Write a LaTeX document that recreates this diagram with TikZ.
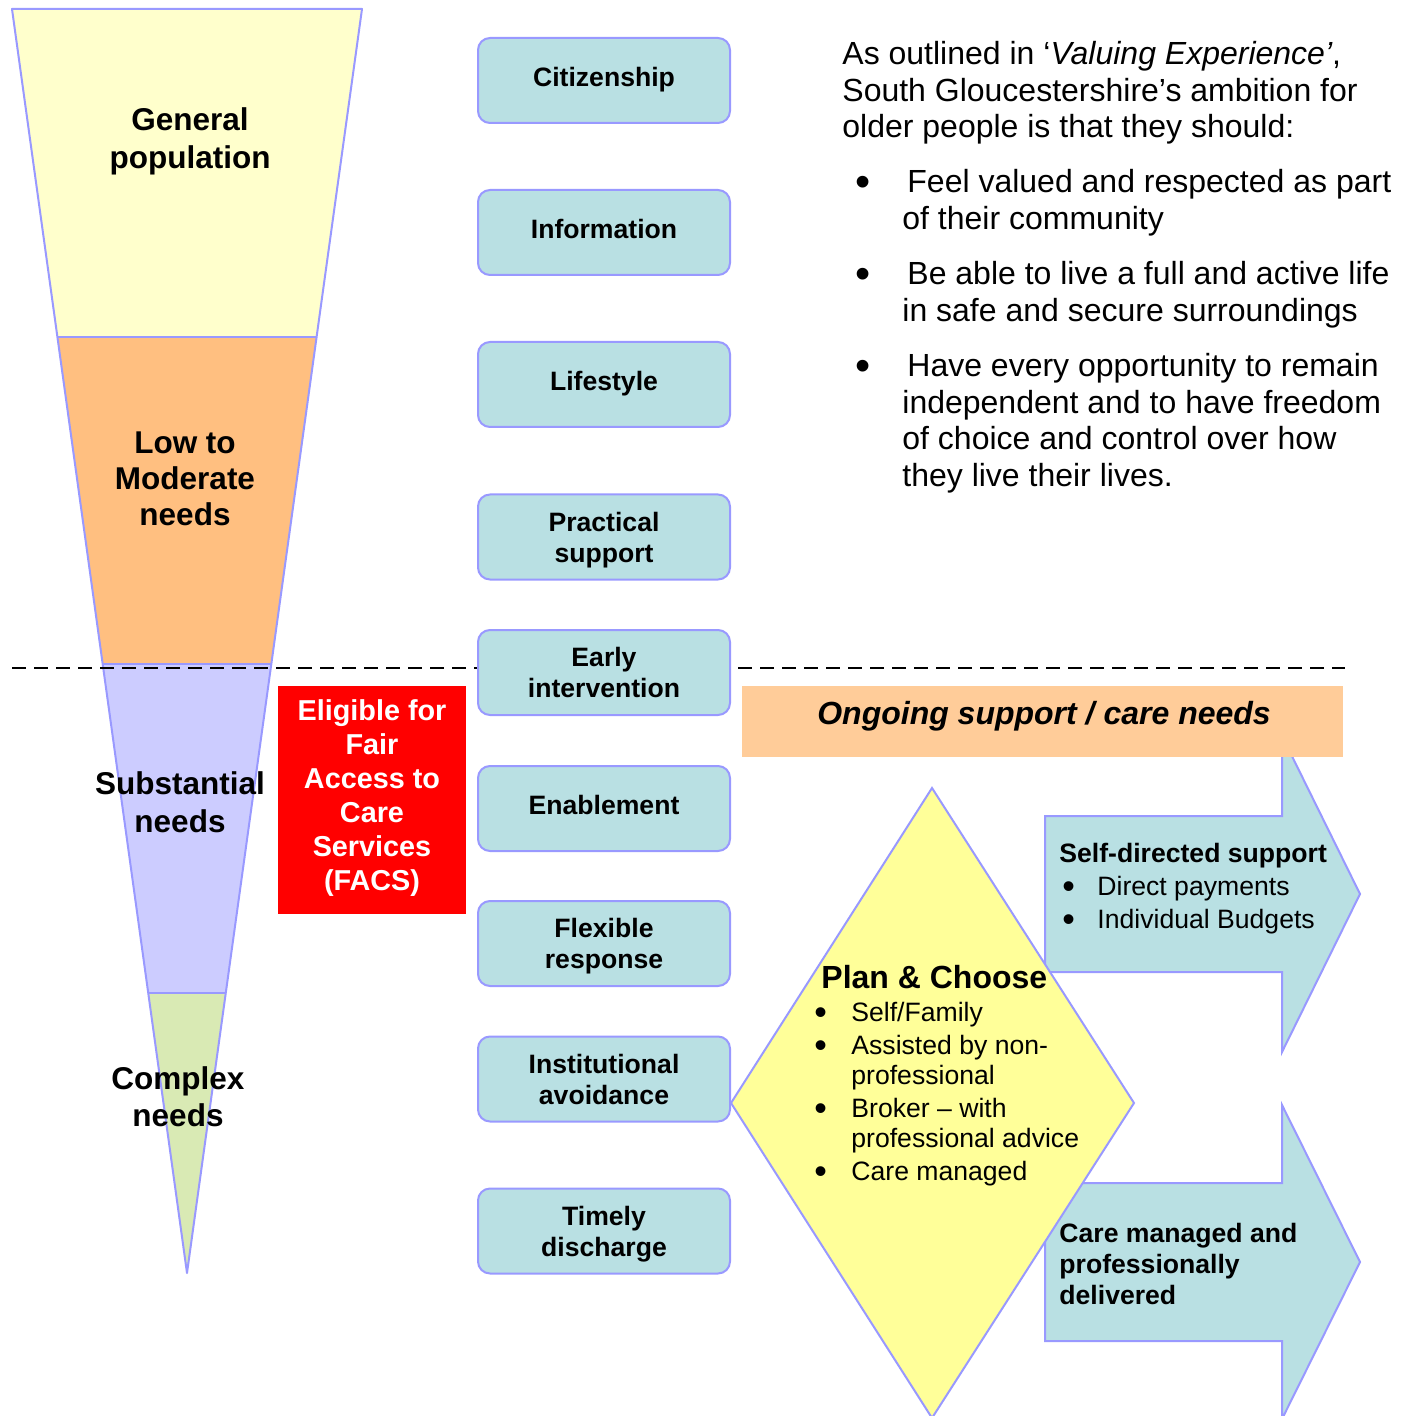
\documentclass[tikz,border=0pt]{standalone}
\usepackage{graphicx}
\usepackage{fontspec}
\setmainfont{Liberation Sans}
\usetikzlibrary{calc}
\definecolor{lav}{RGB}{153,153,255}
\definecolor{boxfill}{RGB}{185,224,227}
\definecolor{funyel}{RGB}{255,255,204}
\definecolor{funora}{RGB}{255,191,128}
\definecolor{funpur}{RGB}{204,204,255}
\definecolor{fungrn}{RGB}{217,234,180}
\definecolor{ongo}{RGB}{255,204,153}
\definecolor{diam}{RGB}{255,255,153}
\newcommand\mybul{\raisebox{-0.12em}{\scalebox{1.35}{\textbullet}}}
\begin{document}
\begin{tikzpicture}[x=0.5pt,y=-0.5pt,
  svcbox/.style={draw=lav, line width=1pt, fill=boxfill, rounded corners=6pt,
    minimum width=126pt, minimum height=42.5pt, align=center, inner sep=0pt,
    font=\fontsize{13.3}{15.5}\selectfont\bfseries},
  oneline/.style={svcbox, text height=9.8pt, text depth=4pt},
  twoline/.style={svcbox, text depth=0pt},
  funtext/.style={align=center, inner sep=0pt, font=\fontsize{15.75}{19}\selectfont\bfseries},
  outline/.style={draw=lav, line width=1pt, line join=round},
  blockarrow/.style={fill=boxfill, draw=lav, line width=1pt, line join=miter},
  bodytext/.style={anchor=base west, inner sep=0pt, font=\fontsize{16}{18.25}\selectfont},
  smalltext/.style={anchor=base west, inner sep=0pt, font=\fontsize{13.3}{15.5}\selectfont}
]
\useasboundingbox (0,0) rectangle (1403,1416);
\clip (0,0) rectangle (1403,1416);

% ---------- funnel ----------
\coordinate (f0l) at (12,9);     \coordinate (f0r) at (362,9);
\coordinate (f1l) at (57.4,337); \coordinate (f1r) at (316.6,337);
\coordinate (f2l) at (102.7,664);\coordinate (f2r) at (271.3,664);
\coordinate (f3l) at (148.2,993);\coordinate (f3r) at (225.8,993);
\coordinate (ftip) at (187,1273);
\fill[funyel] (f0l) -- (f0r) -- (f1r) -- (f1l) -- cycle;
\fill[funora] (f1l) -- (f1r) -- (f2r) -- (f2l) -- cycle;
\fill[funpur] (f2l) -- (f2r) -- (f3r) -- (f3l) -- cycle;
\fill[fungrn] (f3l) -- (f3r) -- (ftip) -- cycle;
\draw[outline] (f0l) -- (f0r) -- (ftip) -- cycle;
\draw[outline] (f1l) -- (f1r);
\draw[outline] (f2l) -- (f2r);
\draw[outline] (f3l) -- (f3r);

% ---------- dashed threshold ----------
\coordinate (dashL) at (12,668);
\coordinate (dashR) at (1345,668);
\draw[line width=1.2pt, dash pattern=on 7pt off 4pt] (dashL) -- (dashR);

% ---------- funnel labels ----------
\node[funtext] (genpop) at (190,141) {General\\population};
\node[funtext, font=\fontsize{15.75}{18}\selectfont\bfseries] (lowmod) at (185,478.5) {Low to\\Moderate\\needs};
\node[funtext] (subst) at (180,802) {Substantial\\needs};
\node[funtext, font=\fontsize{15.75}{18.5}\selectfont\bfseries] (complex) at (178,1097) {Complex\\needs};

% ---------- FACS ----------
\node[fill=red, text=white, minimum width=94pt, minimum height=114pt, inner sep=0pt,
  align=center, text depth=5pt, font=\fontsize{14.4}{17}\selectfont\bfseries] (facs) at (372,800)
  {Eligible for\\Fair\\Access to\\Care\\Services\\(FACS)};

% ---------- service boxes ----------
\node[oneline] (citizen) at (604,80.5) {Citizenship};
\node[oneline] (info) at (604,232.5) {Information};
\node[oneline] (life) at (604,384.5) {Lifestyle};
\node[twoline] (practical) at (604,537) {Practical\\support};
\node[twoline] (early) at (604,672.5) {Early\\intervention};
\node[oneline] (enable) at (604,808.5) {Enablement};
\node[twoline] (flex) at (604,943.5) {Flexible\\response};
\node[twoline] (inst) at (604,1079) {Institutional\\avoidance};
\node[twoline] (timely) at (604,1231) {Timely\\discharge};

% ---------- block arrows ----------
\draw[blockarrow] (1045,816) -- (1282,816) -- (1282,736) -- (1360,894) -- (1282,1052)
  -- (1282,972) -- (1045,972) -- cycle;
\draw[blockarrow] (1045,1183) -- (1282,1183) -- (1282,1105) -- (1360,1262) -- (1282,1419)
  -- (1282,1341) -- (1045,1341) -- cycle;

% ---------- ongoing box ----------
\node[fill=ongo, minimum width=300.5pt, minimum height=35.5pt, inner sep=0pt] (ongoing) at (1042.5,721.5) {};
\node[inner sep=0pt, font=\fontsize{16}{18}\selectfont\bfseries\itshape] (ongoingtxt) at (1044,716)
  {Ongoing support / care needs};

% ---------- diamond ----------
\coordinate (dtop) at (932,788);
\coordinate (dright) at (1134,1103);
\coordinate (dbot) at (932,1418);
\coordinate (dleft) at (731,1103);
\draw[fill=diam, draw=lav, line width=1pt, line join=miter] (dtop) -- (dright) -- (dbot) -- (dleft) -- cycle;

% ---------- diamond text ----------
\node[anchor=base west, inner sep=0pt, font=\fontsize{16}{18}\selectfont\bfseries] (pctitle) at (821,988) {Plan \& Choose};
\node[smalltext, font=\fontsize{13.3}{15}\selectfont] (pclist) at (814,1021)
  {\begin{tabular}[t]{@{}l@{}l@{}}
   \makebox[18.5pt][l]{\mybul} & Self/Family\\[1.5pt]
   \makebox[18.5pt][l]{\mybul} & Assisted by non-\\
   & professional\\[1.5pt]
   \makebox[18.5pt][l]{\mybul} & Broker – with\\
   & professional advice\\[1.5pt]
   \makebox[18.5pt][l]{\mybul} & Care managed
   \end{tabular}};

% ---------- arrow texts ----------
\node[smalltext, font=\fontsize{13.3}{16.5}\selectfont] (sds) at (1059,862)
  {\begin{tabular}[t]{@{}l@{}l@{}}
   \multicolumn{2}{@{}l@{}}{\bfseries Self-directed support}\\
   \makebox[19pt][l]{\hspace{1.5pt}\mybul} & Direct payments\\
   \makebox[19pt][l]{\hspace{1.5pt}\mybul} & Individual Budgets
   \end{tabular}};
\node[smalltext, align=left, font=\fontsize{13.3}{15.5}\selectfont\bfseries] (cmpd) at (1059,1304)
  {Care managed and\\professionally\\delivered};

% ---------- right-hand text ----------
\node[bodytext, align=left] (intro) at (842,138)
  {As outlined in ‘\textit{Valuing Experience’},\\South Gloucestershire’s ambition for\\older people is that they should:};
\node[bodytext] (item1) at (855,193)
  {\begin{tabular}[t]{@{}l@{}l@{}}
   \makebox[23.5pt][l]{\mybul} & \hspace{2.5pt}Feel valued and respected as part\\
   & of their community
   \end{tabular}};
\node[bodytext] (item2) at (855,285)
  {\begin{tabular}[t]{@{}l@{}l@{}}
   \makebox[23.5pt][l]{\mybul} & \hspace{2.5pt}Be able to live a full and active life\\
   & in safe and secure surroundings
   \end{tabular}};
\node[bodytext] (item3) at (855,377)
  {\begin{tabular}[t]{@{}l@{}l@{}}
   \makebox[23.5pt][l]{\mybul} & \hspace{2.5pt}Have every opportunity to remain\\
   & independent and to have freedom\\
   & of choice and control over how\\
   & they live their lives.
   \end{tabular}};
\end{tikzpicture}
\end{document}
